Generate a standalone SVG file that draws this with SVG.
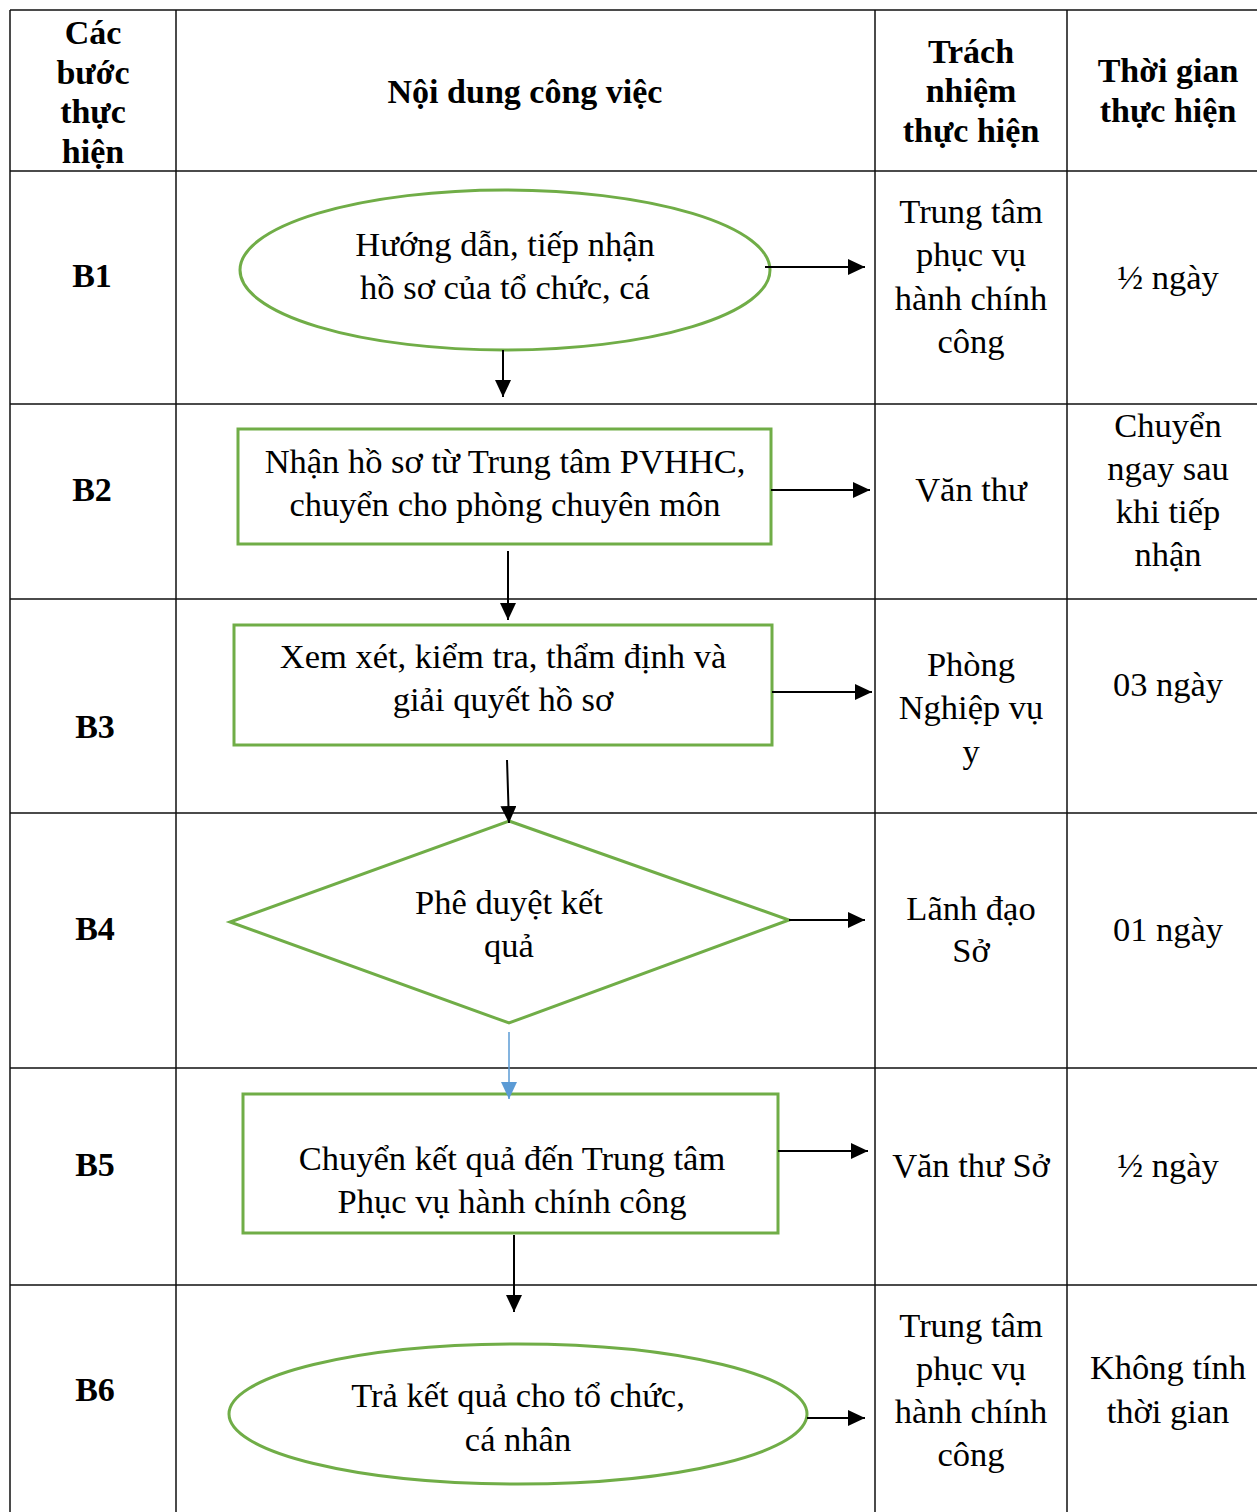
<svg xmlns="http://www.w3.org/2000/svg" width="1257" height="1512" viewBox="0 0 1257 1512">
<style>
.grid{stroke:#111;stroke-width:1.5;fill:none}
.shape{fill:#fff;stroke:#70AD47;stroke-width:3}
.h{font-family:"Liberation Serif","Times New Roman",serif;font-weight:bold;font-size:34px;text-anchor:middle;fill:#000}
.t{font-family:"Liberation Serif","Times New Roman",serif;font-size:34.5px;text-anchor:middle;fill:#000}
.c{stroke:#000;stroke-width:2;fill:none}
.cb{stroke:#5B9BD5;stroke-width:1.5;fill:none}
</style>
<defs>
<marker id="ah" markerUnits="userSpaceOnUse" markerWidth="18" markerHeight="16" refX="17" refY="8" orient="auto"><path d="M0,0 L17,8 L0,16 Z" fill="#000"/></marker>
<marker id="ahb" markerUnits="userSpaceOnUse" markerWidth="18" markerHeight="16" refX="17" refY="8" orient="auto"><path d="M0,0 L17,8 L0,16 Z" fill="#5B9BD5"/></marker>
</defs>
<rect width="1257" height="1512" fill="#fff"/>
<g id="table">
<path class="grid" d="M10,10 H1257 M10,171 H1257 M10,404 H1257 M10,599 H1257 M10,813 H1257 M10,1068 H1257 M10,1285 H1257 M10,10 V1512 M176,10 V1512 M875,10 V1512 M1067,10 V1512"/>
<text class="h" x="93" y="44">Các</text>
<text class="h" x="93" y="84">bước</text>
<text class="h" x="93" y="123">thực</text>
<text class="h" x="93" y="163">hiện</text>
<text class="h" x="525" y="103">Nội dung công việc</text>
<text class="h" x="971" y="63">Trách</text>
<text class="h" x="971" y="102">nhiệm</text>
<text class="h" x="971" y="142">thực hiện</text>
<text class="h" x="1168" y="82">Thời gian</text>
<text class="h" x="1168" y="122">thực hiện</text>
</g>
<g id="row-b1">
<text class="h" x="92" y="287">B1</text>
<text class="t" x="971" y="223">Trung tâm</text>
<text class="t" x="971" y="266">phục vụ</text>
<text class="t" x="971" y="310">hành chính</text>
<text class="t" x="971" y="353">công</text>
<text class="t" x="1168" y="289">½ ngày</text>
</g>
<g id="node-b1">
<ellipse class="shape" cx="505" cy="270" rx="265" ry="80"/>
<text class="t" x="505" y="256">Hướng dẫn, tiếp nhận</text>
<text class="t" x="505" y="299">hồ sơ của tổ chức, cá</text>
</g>
<g id="row-b2">
<text class="h" x="92" y="501">B2</text>
<text class="t" x="971" y="501">Văn thư</text>
<text class="t" x="1168" y="437">Chuyển</text>
<text class="t" x="1168" y="480">ngay sau</text>
<text class="t" x="1168" y="523">khi tiếp</text>
<text class="t" x="1168" y="566">nhận</text>
</g>
<g id="node-b2">
<rect class="shape" x="238" y="429" width="533" height="115"/>
<text class="t" x="505" y="473">Nhận hồ sơ từ Trung tâm PVHHC,</text>
<text class="t" x="505" y="516">chuyển cho phòng chuyên môn</text>
</g>
<g id="row-b3">
<text class="h" x="95" y="738">B3</text>
<text class="t" x="971" y="676">Phòng</text>
<text class="t" x="971" y="719">Nghiệp vụ</text>
<text class="t" x="971" y="763">y</text>
<text class="t" x="1168" y="696">03 ngày</text>
</g>
<g id="node-b3">
<rect class="shape" x="234" y="625" width="538" height="120"/>
<text class="t" x="503" y="668">Xem xét, kiểm tra, thẩm định và</text>
<text class="t" x="503" y="711">giải quyết hồ sơ</text>
</g>
<g id="row-b4">
<text class="h" x="95" y="940">B4</text>
<text class="t" x="971" y="920">Lãnh đạo</text>
<text class="t" x="971" y="962">Sở</text>
<text class="t" x="1168" y="941">01 ngày</text>
</g>
<g id="node-b4">
<polygon class="shape" points="509,821 789,920 509,1023 230,922"/>
<text class="t" x="509" y="914">Phê duyệt kết</text>
<text class="t" x="509" y="957">quả</text>
</g>
<g id="row-b5">
<text class="h" x="95" y="1176">B5</text>
<text class="t" x="971" y="1177">Văn thư Sở</text>
<text class="t" x="1168" y="1177">½ ngày</text>
</g>
<g id="node-b5">
<rect class="shape" x="243" y="1094" width="535" height="139"/>
<text class="t" x="512" y="1170">Chuyển kết quả đến Trung tâm</text>
<text class="t" x="512" y="1213">Phục vụ hành chính công</text>
</g>
<g id="row-b6">
<text class="h" x="95" y="1401">B6</text>
<text class="t" x="971" y="1337">Trung tâm</text>
<text class="t" x="971" y="1380">phục vụ</text>
<text class="t" x="971" y="1423">hành chính</text>
<text class="t" x="971" y="1466">công</text>
<text class="t" x="1168" y="1379">Không tính</text>
<text class="t" x="1168" y="1423">thời gian</text>
</g>
<g id="node-b6">
<ellipse class="shape" cx="518" cy="1414" rx="289" ry="70"/>
<text class="t" x="518" y="1407">Trả kết quả cho tổ chức,</text>
<text class="t" x="518" y="1451">cá nhân</text>
</g>
<g id="connectors">
<line class="c" x1="765" y1="267" x2="865" y2="267" marker-end="url(#ah)"/>
<line class="c" x1="503" y1="350" x2="503" y2="397" marker-end="url(#ah)"/>
<line class="c" x1="771" y1="490" x2="870" y2="490" marker-end="url(#ah)"/>
<line class="c" x1="508" y1="551" x2="508" y2="620" marker-end="url(#ah)"/>
<line class="c" x1="772" y1="692" x2="872" y2="692" marker-end="url(#ah)"/>
<line class="c" x1="507" y1="760" x2="509" y2="823" marker-end="url(#ah)"/>
<line class="c" x1="789" y1="920" x2="865" y2="920" marker-end="url(#ah)"/>
<line class="cb" x1="509" y1="1032" x2="509" y2="1099" marker-end="url(#ahb)"/>
<line class="c" x1="778" y1="1151" x2="868" y2="1151" marker-end="url(#ah)"/>
<line class="c" x1="514" y1="1235" x2="514" y2="1312" marker-end="url(#ah)"/>
<line class="c" x1="807" y1="1418" x2="865" y2="1418" marker-end="url(#ah)"/>
</g>
</svg>
